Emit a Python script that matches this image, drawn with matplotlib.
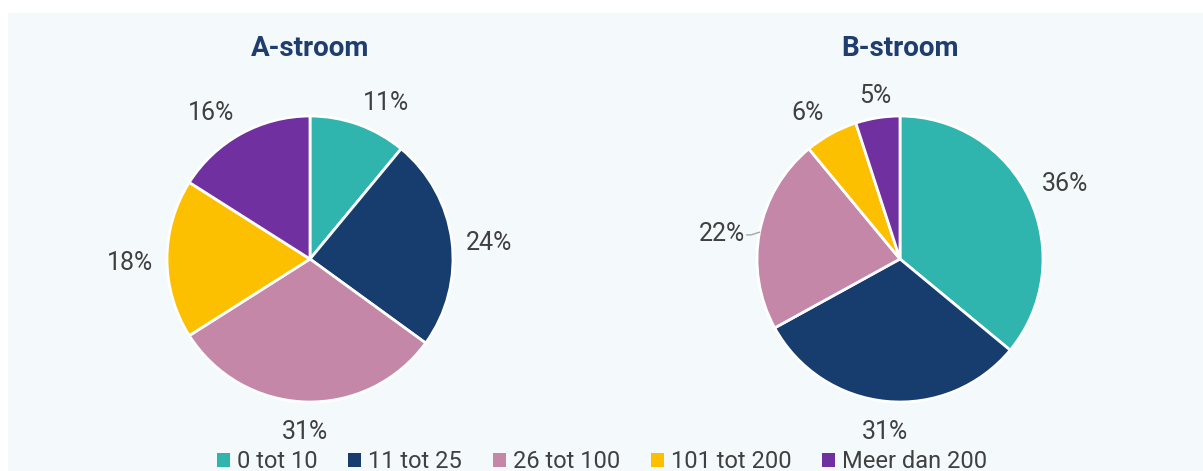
import numpy as np
import matplotlib
matplotlib.use('Agg')
import matplotlib.pyplot as plt
from matplotlib.patches import Patch, Rectangle

plt.rcParams['font.family'] = ['Roboto', 'DejaVu Sans']

# data
categories = ['0 tot 10', '11 tot 25', '26 tot 100', '101 tot 200', 'Meer dan 200']
titles = ['A-stroom', 'B-stroom']
a_stroom = [11, 24, 31, 18, 16]
b_stroom = [36, 31, 22, 6, 5]
colors = ['#2fb5ae', '#173d6e', '#c487a8', '#fdc000', '#7030a0']

W, H = 1203, 471
fig = plt.figure(figsize=(W / 100, H / 100), dpi=100)
fig.patch.set_facecolor('white')

# lichte achtergrond van het paneel
fig.patches.append(Rectangle((8 / W, 0), 1 - 8 / W, 1 - 13 / H,
                             transform=fig.transFigure, facecolor='#f4f9fc',
                             edgecolor='none', zorder=-1))

text_color = '#404040'
title_color = '#1f3d6d'


def draw_pie(cx, values, title, leader=None):
    r = 143
    cy = 259
    ax = fig.add_axes([(cx - r) / W, (H - cy - r) / H, 2 * r / W, 2 * r / H])
    ax.pie(values, colors=colors, startangle=90, counterclock=False,
           wedgeprops=dict(edgecolor='white', linewidth=2))
    ax.set_xlim(-1, 1)
    ax.set_ylim(-1, 1)
    ax.set_aspect('equal')
    ax.axis('off')

    total = sum(values)
    start = 90.0
    for i, v in enumerate(values):
        theta = np.deg2rad(start - v / total * 360 / 2)
        start -= v / total * 360
        c, s = np.cos(theta), np.sin(theta)
        d = 1.1
        ha = 'left' if c > 0.3 else ('right' if c < -0.3 else 'center')
        va = 'bottom' if s > 0.3 else ('top' if s < -0.3 else 'center')
        # labels iets lager, zoals in Excel
        ax.annotate(f'{v}%', xy=(d * c, d * s), xytext=(0, -3),
                    textcoords='offset points', ha=ha, va=va, fontsize=18,
                    color=text_color, annotation_clip=False)
        if leader == i:
            ax.plot([c * 1.0, c * 1.06, c * 1.09], [s * 1.0, s * 0.9, s * 0.9],
                    color='#a6a6a6', lw=1, clip_on=False)

    fig.text(cx / W, 1 - 48 / H, title, ha='center', va='center',
             fontsize=20, fontweight='bold', color=title_color)


draw_pie(310, a_stroom, titles[0])
draw_pie(900, b_stroom, titles[1], leader=2)

handles = [Patch(facecolor=c, edgecolor='none') for c in colors]
fig.legend(handles, categories, loc='center', bbox_to_anchor=(602 / W, 9 / H),
           ncol=5, frameon=False, fontsize=17, handlelength=0.55,
           handleheight=0.55, handletextpad=0.3, columnspacing=1.3,
           labelcolor=text_color)

fig.savefig('out.png', dpi=100)
